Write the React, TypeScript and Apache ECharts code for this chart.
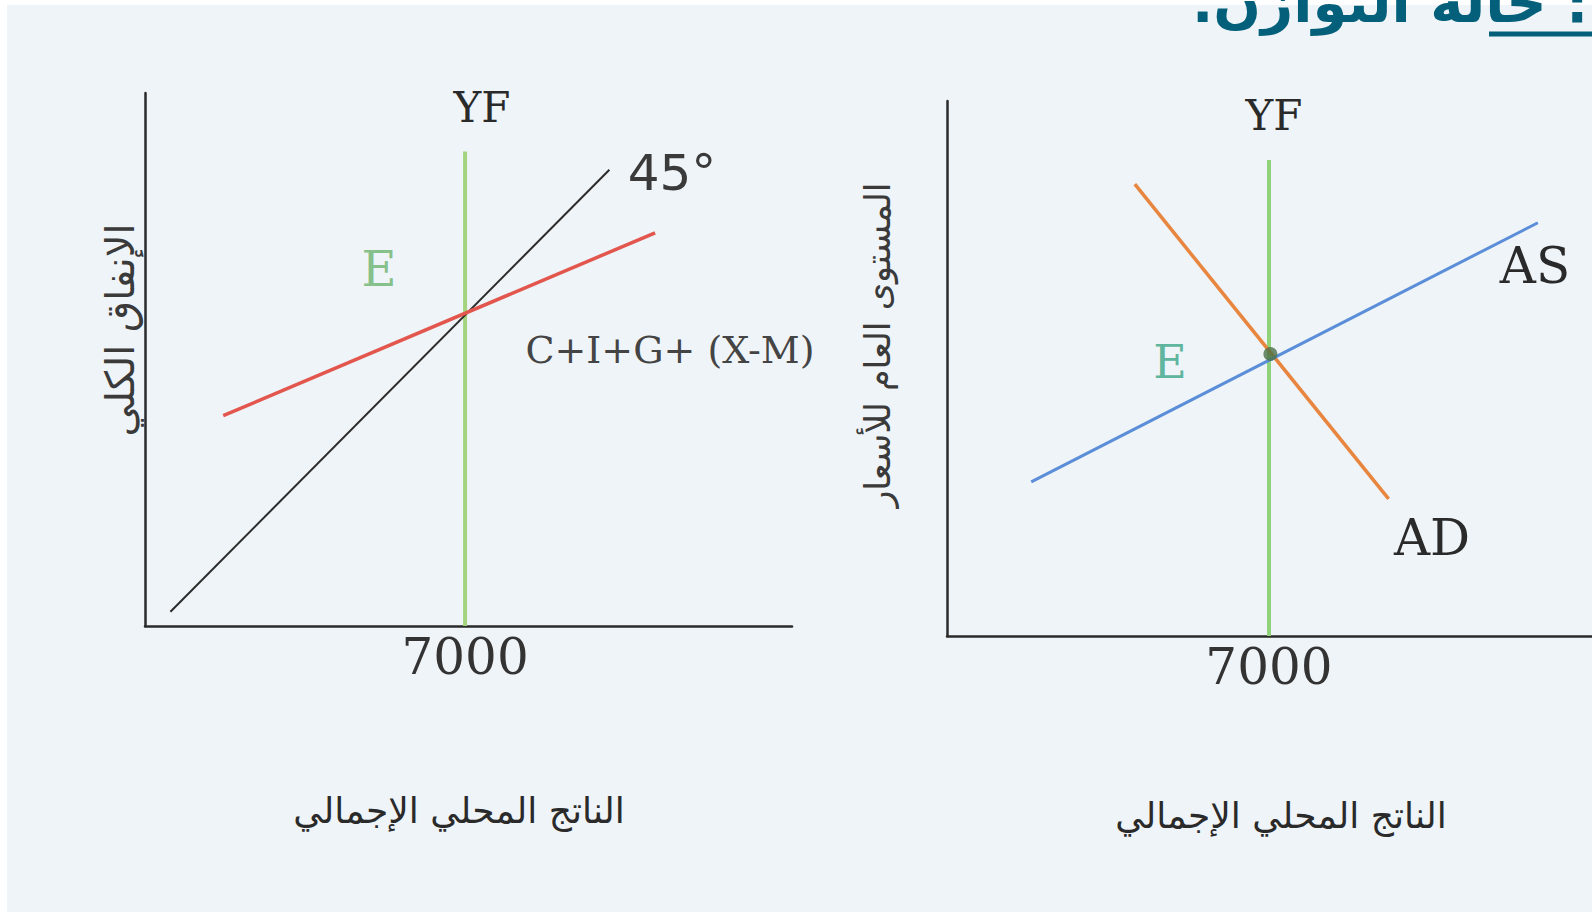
import React, { useEffect, useRef } from "react";
import * as echarts from "echarts";

// ---- data (economic units) ----
const xTickValues = [7000];
const leftLine45 = [[556, 311], [10156, 9978]];
const leftSpending = [[1711, 4600], [11156, 8600]];
const leftYF = [[7000, 0], [7000, 10378]];

const rightAD = [[4083, 9821], [9600, 2979]];
const rightAS = [[1832, 3350], [12845, 8983]];
const rightYF = [[7000, 0], [7000, 10350]];
const rightE = [[7030, 6130]];

const titleText = "\u200Fأولاً: حالة التوازن.\u200F";
const leftYLabel = "الإنفاق الكلي";
const rightYLabel = "المستوى العام للأسعار";
const xLabel = "الناتج المحلي الإجمالي";
const spendingLabel = "C+I+G+ (X-M)";

const SERIF = "DejaVu Serif";
const ARABIC = "DejaVu Sans";
const AXIS = "#2a2a2a";

export default function App() {
  const ref = useRef<HTMLDivElement>(null);
  useEffect(() => {
    if (!ref.current) return;
    const chart = echarts.init(ref.current, undefined, { renderer: "svg" });
    const axisCommon = {
      type: "value" as const,
      axisLine: { show: true, onZero: false, lineStyle: { color: AXIS, width: 2.5 } },
      axisTick: { show: false },
      splitLine: { show: false },
    };
    const xLab = {
      show: true,
      customValues: xTickValues,
      formatter: (v: number) => String(v),
      fontFamily: SERIF,
      fontSize: 50,
      color: "#333",
      margin: 6,
    };
    const txt = (x: number, y: number, text: string, fontSize: number, fill: string, family: string, extra: any = {}) => ({
      type: "text",
      x,
      y,
      silent: true,
      ...extra,
      style: { text, fontSize, fontFamily: family, fill, align: "center", verticalAlign: "middle", ...(extra.style || {}) },
    });
    chart.setOption({
      animation: false,
      backgroundColor: "transparent",
      grid: [
        { left: 145, top: 93, width: 647, height: 533 },
        { left: 947, top: 101, width: 645, height: 535 },
      ],
      xAxis: [
        { ...axisCommon, gridIndex: 0, min: 0, max: 14150, axisLabel: xLab },
        { ...axisCommon, gridIndex: 1, min: 0, max: 14022, axisLabel: xLab },
      ],
      yAxis: [
        { ...axisCommon, gridIndex: 0, min: 0, max: 11658, axisLabel: { show: false } },
        { ...axisCommon, gridIndex: 1, min: 0, max: 11630, axisLabel: { show: false } },
      ],
      series: [
        { type: "line", xAxisIndex: 0, yAxisIndex: 0, data: leftYF, showSymbol: false, lineStyle: { color: "#a5d47e", width: 4 } },
        { type: "line", xAxisIndex: 0, yAxisIndex: 0, data: leftLine45, showSymbol: false, lineStyle: { color: "#2b2b2b", width: 2 } },
        { type: "line", xAxisIndex: 0, yAxisIndex: 0, data: leftSpending, showSymbol: false, lineStyle: { color: "#e2564d", width: 3.5 } },
        { type: "line", xAxisIndex: 1, yAxisIndex: 1, data: rightYF, showSymbol: false, lineStyle: { color: "#8fd27a", width: 4 } },
        { type: "line", xAxisIndex: 1, yAxisIndex: 1, data: rightAD, showSymbol: false, lineStyle: { color: "#e8853f", width: 3.5 } },
        { type: "line", xAxisIndex: 1, yAxisIndex: 1, data: rightAS, showSymbol: false, lineStyle: { color: "#5b8ed8", width: 3 } },
        { type: "scatter", xAxisIndex: 1, yAxisIndex: 1, data: rightE, symbolSize: 14, itemStyle: { color: "#4a7048" }, z: 5 },
      ],
      graphic: [
        // title (cut at top, as in the scan)
        {
          type: "text", x: 1192, y: 30, silent: true,
          style: { text: titleText, fontSize: 56, fontWeight: "bold", fontFamily: ARABIC, fill: "#04607a", align: "left", verticalAlign: "bottom" },
        },
        { type: "line", silent: true, shape: { x1: 1489, y1: 34, x2: 1592, y2: 34 }, style: { stroke: "#04607a", lineWidth: 5 } },
        // left chart labels
        txt(482, 107, "YF", 42, "#2a2a2a", SERIF),
        txt(672, 173, "45°", 50, "#3a3a3a", "DejaVu Sans"),
        txt(379, 269, "E", 48, "#86c08a", SERIF),
        txt(670, 350, spendingLabel, 38, "#444444", SERIF),
        txt(120, 330, leftYLabel, 40, "#3a3a3a", ARABIC, { rotation: Math.PI / 2 }),
        txt(459, 810, xLabel, 36, "#2a2a2a", ARABIC),
        // right chart labels
        txt(1274, 115, "YF", 42, "#2a2a2a", SERIF),
        txt(1535, 266, "AS", 50, "#2a2a2a", SERIF),
        txt(1432, 538, "AD", 50, "#2a2a2a", SERIF),
        txt(1170, 362, "E", 46, "#5fb59e", SERIF),
        txt(878, 345, rightYLabel, 35, "#3a3a3a", ARABIC, { rotation: Math.PI / 2 }),
        txt(1281, 815, xLabel, 36, "#2a2a2a", ARABIC),
      ],
    });
    return () => chart.dispose();
  }, []);
  return (
    <div style={{ position: "fixed", left: 0, top: 0, width: 1592, height: 915, background: "#ffffff", overflow: "hidden" }}>
      <div style={{ position: "absolute", left: 7, top: 5, width: 1585, height: 907, background: "#eff4f8" }} />
      <div ref={ref} style={{ position: "absolute", left: 0, top: 0, width: 1592, height: 915 }} />
    </div>
  );
}
